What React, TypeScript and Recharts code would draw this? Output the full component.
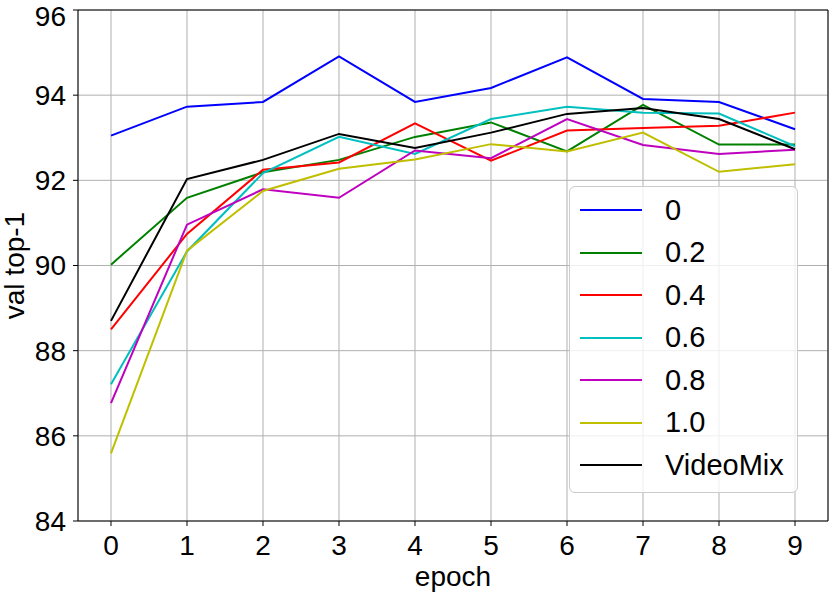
import {
  LineChart,
  Line,
  XAxis,
  YAxis,
  CartesianGrid,
  Legend,
  ReferenceLine,
} from 'recharts'

const epochs = [0, 1, 2, 3, 4, 5, 6, 7, 8, 9]
const yTicks = [84, 86, 88, 90, 92, 94, 96]

const rate0 = [93.05, 93.73, 93.84, 94.91, 93.84, 94.17, 94.89, 93.91, 93.84, 93.2]
const rate02 = [90.02, 91.59, 92.19, 92.48, 93.02, 93.36, 92.68, 93.77, 92.84, 92.84]
const rate04 = [88.5, 90.74, 92.25, 92.42, 93.34, 92.46, 93.17, 93.23, 93.28, 93.59]
const rate06 = [87.21, 90.33, 92.17, 93.02, 92.62, 93.44, 93.73, 93.59, 93.57, 92.8]
const rate08 = [86.77, 90.96, 91.79, 91.59, 92.7, 92.52, 93.44, 92.83, 92.62, 92.72]
const rate10 = [85.59, 90.35, 91.75, 92.27, 92.49, 92.85, 92.68, 93.12, 92.2, 92.38]
const videoMix = [88.7, 92.03, 92.48, 93.09, 92.76, 93.12, 93.56, 93.7, 93.44, 92.73]

const series = [
  { key: 'r0', name: '0', color: '#0000ff', values: rate0 },
  { key: 'r02', name: '0.2', color: '#008000', values: rate02 },
  { key: 'r04', name: '0.4', color: '#ff0000', values: rate04 },
  { key: 'r06', name: '0.6', color: '#00bfbf', values: rate06 },
  { key: 'r08', name: '0.8', color: '#bf00bf', values: rate08 },
  { key: 'r10', name: '1.0', color: '#bfbf00', values: rate10 },
  { key: 'vm', name: 'VideoMix', color: '#000000', values: videoMix },
]

const data = epochs.map((epoch, i) => {
  const row: Record<string, number> = { epoch }
  series.forEach((s) => {
    row[s.key] = s.values[i]
  })
  return row
})

const X_MIN = -0.434
const X_MAX = 9.434
const FONT = '"Liberation Sans", Arial, Helvetica, sans-serif'
const FS = 28

function LegendBox() {
  return (
    <div
      style={{
        width: 229,
        padding: '2px 0 5px 0',
        border: '1px solid #cccccc',
        borderRadius: 6,
        background: 'rgba(255,255,255,0.8)',
        fontFamily: FONT,
        fontSize: 29,
        color: '#000',
        boxSizing: 'border-box',
      }}
    >
      {series.map((s) => (
        <div key={s.key} style={{ height: 42.5, display: 'flex', alignItems: 'center' }}>
          <div style={{ marginLeft: 10, width: 62, height: 2, background: s.color }} />
          <span style={{ marginLeft: 23, lineHeight: 1 }}>{s.name}</span>
        </div>
      ))}
    </div>
  )
}

export default function App() {
  return (
    <div style={{ position: 'absolute', left: 0, top: 0, background: '#fff' }}>
      <LineChart
        width={830}
        height={595}
        data={data}
        margin={{ top: 10, right: 2, bottom: 0, left: 0 }}
        style={{ fontFamily: FONT }}
      >
        <CartesianGrid stroke="#b0b0b0" strokeWidth={1} />
        <XAxis
          dataKey="epoch"
          type="number"
          domain={[X_MIN, X_MAX]}
          ticks={epochs}
          allowDataOverflow
          height={74}
          tickSize={5}
          tickMargin={9}
          axisLine={{ stroke: '#000' }}
          tickLine={{ stroke: '#000' }}
          tick={{ fill: '#000', fontSize: FS }}
          label={{
            value: 'epoch',
            position: 'insideBottom',
            offset: 9,
            fill: '#000',
            fontSize: FS,
          }}
        />
        <YAxis
          type="number"
          domain={[84, 96]}
          ticks={yTicks}
          allowDataOverflow
          width={78}
          tickSize={5}
          tickMargin={7}
          axisLine={{ stroke: '#000' }}
          tickLine={{ stroke: '#000' }}
          tick={{ fill: '#000', fontSize: FS }}
          label={{
            value: 'val top-1',
            angle: -90,
            position: 'insideLeft',
            offset: 14,
            fill: '#000',
            fontSize: FS,
            style: { textAnchor: 'middle' },
          }}
        />
        <ReferenceLine y={96} stroke="#000" />
        <ReferenceLine x={X_MAX} stroke="#000" />
        {series.map((s) => (
          <Line
            key={s.key}
            dataKey={s.key}
            name={s.name}
            stroke={s.color}
            strokeWidth={2}
            dot={false}
            activeDot={false}
            isAnimationActive={false}
          />
        ))}
        <Legend
          layout="vertical"
          align="center"
          verticalAlign="middle"
          content={() => <LegendBox />}
          wrapperStyle={{ left: 569, top: 186, width: 230 }}
        />
      </LineChart>
    </div>
  )
}
